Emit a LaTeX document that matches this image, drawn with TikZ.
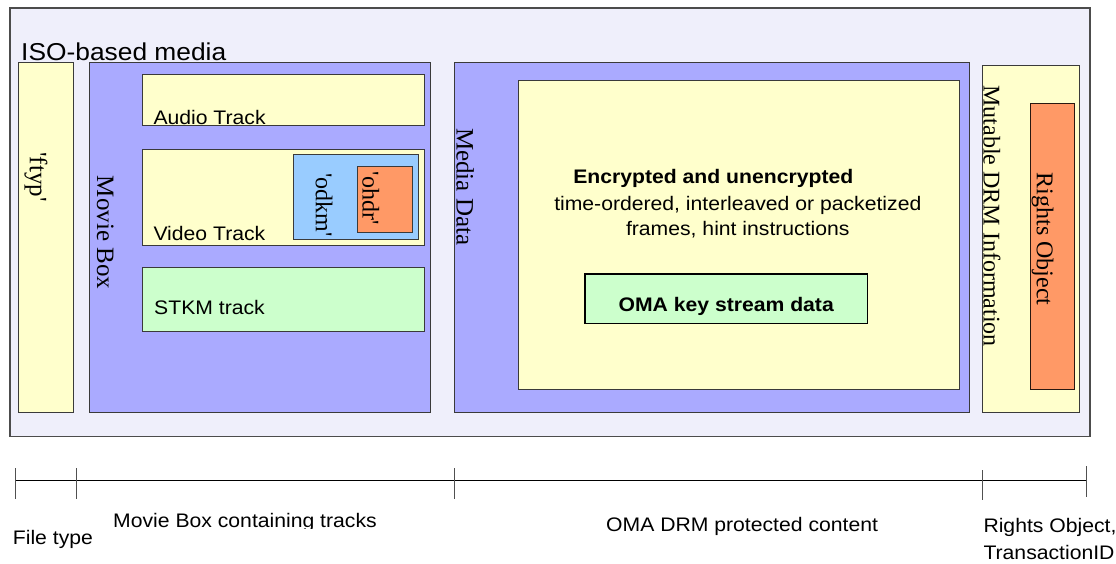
\documentclass[tikz,border=0pt]{standalone}
\usepackage{fontspec}
\setmainfont{Liberation Sans}[FakeStretch=1.08]
\newfontfamily\serifrm{Liberation Serif}
\definecolor{bgl}{HTML}{EFEFFB}
\definecolor{peri}{HTML}{AAAAFF}
\definecolor{lyel}{HTML}{FFFFCC}
\definecolor{lblue}{HTML}{99CCFF}
\definecolor{salm}{HTML}{FF9966}
\definecolor{lgrn}{HTML}{CCFFCC}
\definecolor{edgec}{HTML}{3A3A3A}
\definecolor{tickc}{HTML}{505050}
\newcommand\fsz[1]{\fontsize{#1}{#1}\selectfont}
\begin{document}
\begin{tikzpicture}[x=1pt,y=-1pt,
  box/.style={draw=edgec, line width=0.9pt, inner sep=0pt, outer sep=0pt, anchor=north west},
  rot/.style={rotate=-90, inner sep=0pt, font=\serifrm\fsz{24}},
  lbl/.style={inner sep=0pt, anchor=base west, font=\fsz{19.6}},
  ctr/.style={inner sep=0pt, anchor=base, font=\fsz{19.6}},
  tick/.style={draw=tickc, line width=0.9pt},
  axis/.style={draw=black, line width=0.9pt}]
\useasboundingbox (0,0) rectangle (1116,563);
% containers
\node[box, draw=black!70, line width=1.3pt, fill=bgl, minimum width=1080pt, minimum height=428.5pt] (outer) at (10,8) {};
\node[box, fill=lyel, minimum width=55pt, minimum height=350.4pt] (ftyp) at (18.3,62.3) {};
\node[box, fill=peri, minimum width=340.5pt, minimum height=350.4pt] (movie) at (89.5,62.3) {};
\node[box, fill=lyel, minimum width=281.7pt, minimum height=51pt] (audio) at (142.3,74) {};
\node[box, fill=lyel, minimum width=281.7pt, minimum height=95.7pt] (video) at (142.3,149.3) {};
\node[box, fill=lblue, minimum width=125.4pt, minimum height=84.7pt] (odkm) at (293.3,154.3) {};
\node[box, fill=salm, minimum width=54.3pt, minimum height=66pt] (ohdr) at (357.7,166) {};
\node[box, fill=lgrn, minimum width=281.7pt, minimum height=64.7pt] (stkm) at (142.3,267) {};
\node[box, fill=peri, minimum width=515pt, minimum height=350.4pt] (media) at (454.3,62.3) {};
\node[box, fill=lyel, minimum width=441pt, minimum height=308.7pt] (inner) at (518,80.3) {};
\node[box, draw=black, line width=1.5pt, fill=lgrn, minimum width=282.3pt, minimum height=49.3pt] (omakey) at (585,274) {};
\node[box, fill=lyel, minimum width=96.3pt, minimum height=347.7pt] (mutable) at (982.7,65) {};
\node[box, draw=black!60!salm!40!black, fill=salm, minimum width=43.6pt, minimum height=285.3pt] (rights) at (1030.7,103.7) {};
% horizontal labels
\node[lbl, font=\fsz{24.4}] (isolbl) at (21,60) {ISO-based media};
\node[lbl] (audiolbl) at (153.3,124) {Audio Track};
\node[lbl] (videolbl) at (153.3,240.7) {Video Track};
\node[lbl] (stkmlbl) at (154,314.3) {STKM track};
\node[ctr, font=\fsz{19.6}\bfseries] (enclbl) at (713.3,183.3) {Encrypted and unencrypted};
\node[ctr] (timelbl) at (737.8,210.7) {time-ordered, interleaved or packetized};
\node[ctr] (frameslbl) at (737.8,235) {frames, hint instructions};
\node[ctr, font=\fsz{19.6}\bfseries] (omalbl) at (726.2,311) {OMA key stream data};
% rotated labels
\node[rot, font=\serifrm\fsz{25}] (ftyplbl) at (36,177) {\textquotesingle ftyp\textquotesingle};
\node[rot, font=\serifrm\fsz{25}] (movielbl) at (105.2,232.5) {Movie Box};
\node[rot] (odkmlbl) at (324,205) {\textquotesingle odkm\textquotesingle};
\node[rot] (ohdrlbl) at (370.8,198.3) {\textquotesingle ohdr\textquotesingle};
\node[rot, font=\serifrm\fsz{25}] (medialbl) at (465.2,186.7) {Media Data};
\node[rot] (mutablelbl) at (992,216.3) {Mutable DRM Information};
\node[rot] (rightslbl) at (1042.5,239.2) {Rights Object};
% timeline
\coordinate (a0) at (15,480); \coordinate (a0t) at (15,468); \coordinate (a0b) at (15,499);
\coordinate (a1t) at (76,468); \coordinate (a1b) at (76,499);
\coordinate (a2t) at (454.5,468); \coordinate (a2b) at (454.5,499);
\coordinate (a3t) at (982.7,470); \coordinate (a3b) at (982.7,500);
\coordinate (a4) at (1086.7,480); \coordinate (a4t) at (1086.7,466); \coordinate (a4b) at (1086.7,497);
\draw[axis] (a0) -- (a4);
\draw[tick] (a0t) -- (a0b);
\draw[tick] (a1t) -- (a1b);
\draw[tick] (a2t) -- (a2b);
\draw[tick] (a3t) -- (a3b);
\draw[tick] (a4t) -- (a4b);
% bottom labels
\node[lbl] (filetype) at (12.7,544) {File type};
\begin{scope}
\clip (100,500) rectangle (420,528.5);
\node[lbl] (moviecont) at (113,527) {Movie Box containing tracks};
\end{scope}
\node[lbl] (omadrm) at (606,531) {OMA DRM protected content};
\node[lbl] (rightsobj) at (983.3,532) {Rights Object,};
\node[lbl] (transid) at (983.3,559) {TransactionID};
\end{tikzpicture}
\end{document}
